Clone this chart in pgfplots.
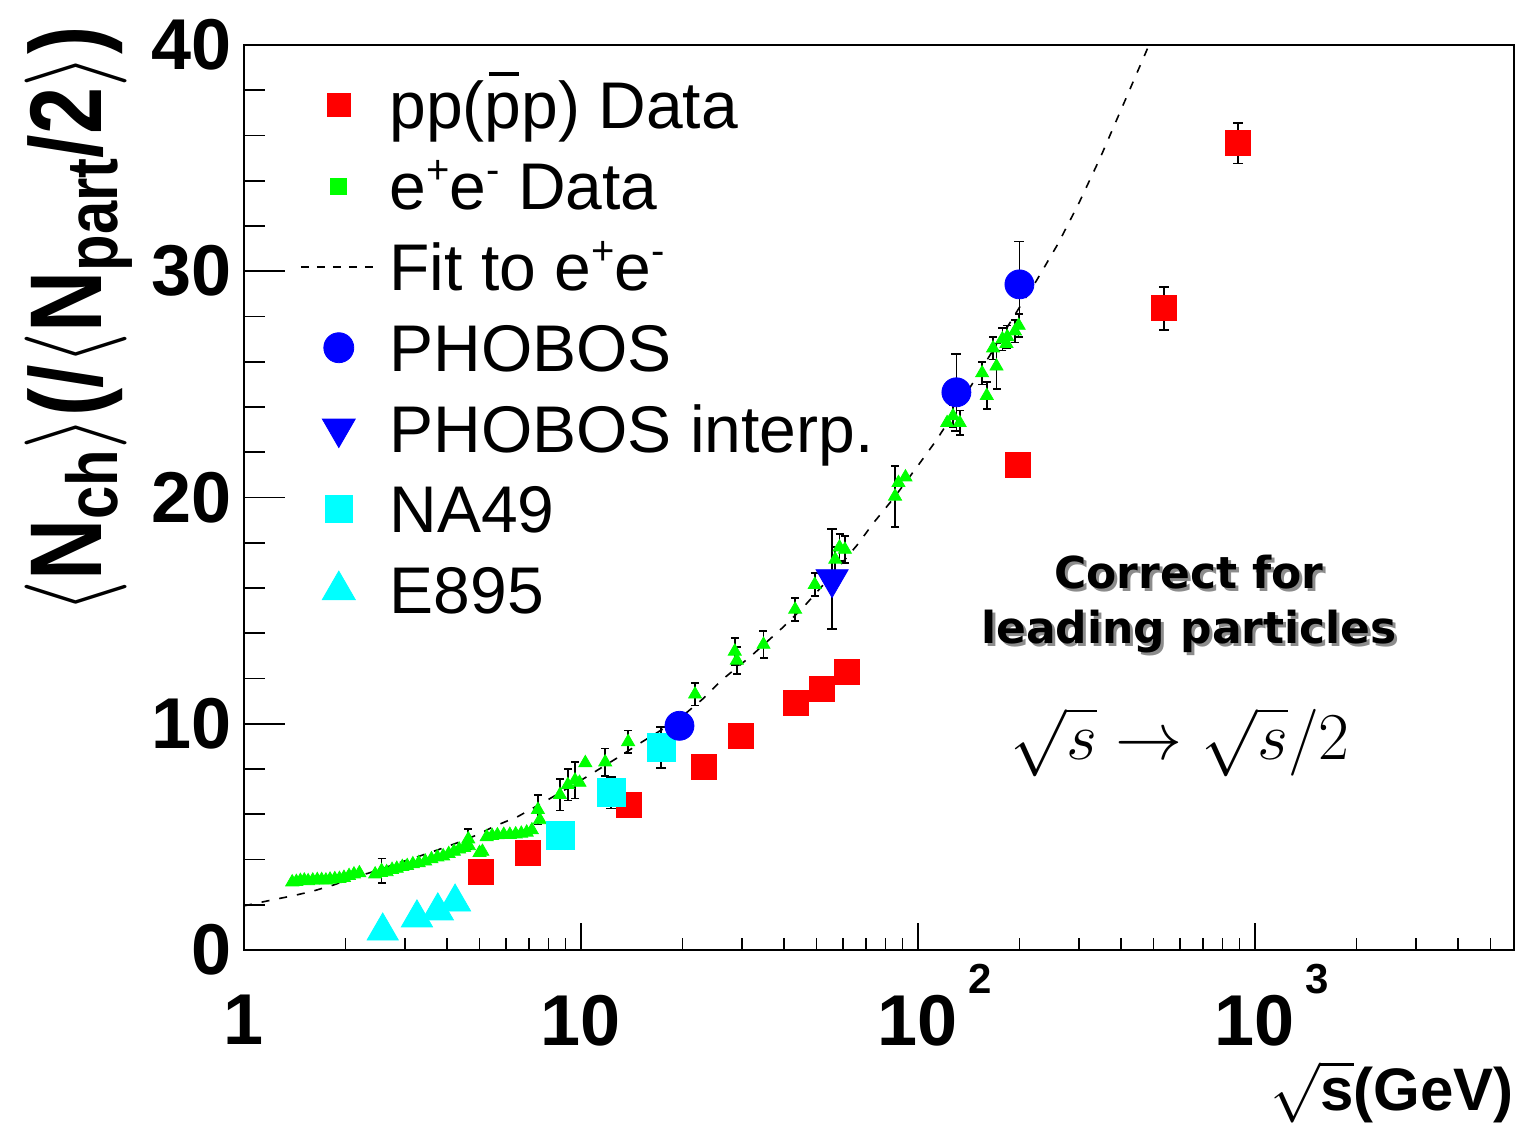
\RequirePackage{fix-cm}
\documentclass[border=0pt]{standalone}
\usepackage{fontspec}
\setmainfont{Liberation Sans}
\newfontfamily\dejavu{DejaVu Sans}
\usepackage{graphicx}
\usepackage{pgfplots}
\usepackage{pgfplotstable}
\pgfplotsset{compat=1.18}
\definecolor{rred}{RGB}{255,0,0}
\definecolor{rgreen}{RGB}{0,255,0}
\definecolor{rblue}{RGB}{0,0,255}
\definecolor{rcyan}{RGB}{0,255,255}

\newcommand\sups[1]{\raisebox{13pt}{\fontsize{20}{20}\selectfont #1}}
\newcommand\subs[1]{\raisebox{-8pt}{\fontsize{36}{36}\selectfont\bfseries #1}}
\newcommand\tenp[1]{10\rlap{\hspace{5pt}\smash{\raisebox{26pt}{\fontsize{21}{21}\selectfont\bfseries #1}}}}
\newcommand\pbar{\makebox[0pt][l]{\hspace{0.06em}\rule[0.80em]{0.45em}{0.06em}}p}
\newcommand\shadowtext[1]{\makebox[0pt][l]{\hspace{1.5pt}\raisebox{-1.5pt}{\textcolor{black!45}{#1}}}#1}

\pgfplotstableread{
x y
1.0 1.95
1.2 2.2
1.4 2.4
1.6 2.6
1.85 2.88
2.1 3.18
2.5 3.53
2.85 3.83
3.2 4.07
3.75 4.42
4.3 4.74
4.9 5.08
5.5 5.45
6.5 5.9
8 6.65
10 7.5
13 8.55
15 9.15
19.5 10.2
23 11.1
26 11.9
32 13.0
40 14.3
46 15.2
55 16.5
66 17.9
74 18.9
85 20.0
101 21.5
113 22.5
130 23.9
146 25.1
175 27.0
200 28.4
225 29.6
260 31.2
300 33.0
347 35.0
413 37.6
488 40.1
520 41.2
}\fitdata

\pgfplotstableread{
x y
1.39 3.00
1.43 3.02
1.47 3.06
1.51 3.08
1.55 3.05
1.60 3.08
1.65 3.10
1.70 3.10
1.75 3.08
1.80 3.12
1.86 3.14
1.92 3.15
1.98 3.20
2.05 3.28
2.12 3.35
2.20 3.40
2.45 3.35
2.55 3.42
2.65 3.45
2.75 3.55
2.84 3.60
2.95 3.68
3.05 3.72
3.17 3.80
3.30 3.85
3.45 3.92
3.60 4.02
3.75 4.10
3.90 4.15
4.05 4.25
4.20 4.35
4.35 4.45
4.50 4.52
4.65 4.60
5.00 4.30
5.10 4.35
5.25 5.00
5.45 5.05
5.65 5.08
5.90 5.10
6.15 5.10
6.40 5.12
6.65 5.15
6.90 5.20
7.15 5.30
7.55 5.75
9.9 7.4
10.3 8.27
87.5 20.65
91.8 20.9
122 23.3
183 26.8
}\eeplain

\pgfplotstableread{
x y ey
2.56 3.50 0.55
4.63 4.90 0.45
7.45 6.20 0.65
8.66 6.86 0.70
9.14 7.30 0.70
9.60 7.50 0.80
11.8 8.30 0.60
13.8 9.20 0.50
21.8 11.30 0.50
28.6 13.20 0.60
29.0 12.80 0.60
34.8 13.50 0.60
43.2 15.05 0.50
49.4 16.15 0.50
56.8 17.26 0.55
58.5 17.80 0.60
60.7 17.70 0.60
85.5 20.05 1.35
127 23.60 0.50
133 23.30 0.55
155 25.50 0.50
160 24.50 0.60
167 26.60 0.50
171 25.80 1.00
178 27.00 0.50
184 27.10 0.50
194 27.35 0.50
199 27.60 0.50
}\eeerr

\pgfplotstableread{
x y
5.05 3.45
6.96 4.29
13.9 6.42
23.2 8.10
29.8 9.47
43.5 10.9
51.9 11.55
61.6 12.3
198 21.46
}\ppplain

\pgfplotstableread{
x y ey
537 28.36 0.95
891 35.66 0.90
}\pperr

\pgfplotstableread{
x y ey
8.7 5.05 0.40
12.3 6.95 0.70
17.3 8.95 0.90
}\nafour

\pgfplotstableread{
x y
2.58 0.84
3.26 1.42
3.76 1.73
4.23 2.12
}\efive

\pgfplotstableread{
x y ey
19.6 9.91 0.40
130 24.65 1.70
200 29.42 1.90
}\phobos

\pgfplotstableread{
x y ey
55.6 16.4 2.2
}\phint

\pgfplotsset{
  legmark/.style={legend image code/.code={\draw[##1] plot coordinates {(19pt,0pt)}; \path (0pt,0pt) (38pt,0pt);}},
  legline/.style={legend image code/.code={\draw[##1] (0pt,0pt) -- (38pt,0pt);}},
  ebars/.style={error bars/.cd, y dir=both, y explicit,
     error bar style={black, line width=0.8pt},
     error mark options={rotate=90, black, mark size=#1, line width=0.8pt}},
}

\begin{document}
\begin{tikzpicture}
\useasboundingbox (-122pt,-87.5pt) rectangle (638pt,475pt);
\begin{axis}[
  at={(0pt,0pt)}, anchor=south west,
  scale only axis, width=635pt, height=452.5pt,
  xmode=log, xmin=1, xmax=5870, ymin=0, ymax=40,
  xtick={1,10,100,1000},
  xticklabels={1,10,{\tenp{2}},{\tenp{3}}},
  minor xtick={2,3,4,5,6,7,8,9,20,30,40,50,60,70,80,90,200,300,400,500,600,700,800,900,2000,3000,4000,5000},
  ytick={0,10,20,30,40},
  yticklabels={0,10,20,30,40},
  minor ytick={2,4,6,8,12,14,16,18,22,24,26,28,32,34,36,38},
  xtick pos=bottom, ytick pos=left,
  tick align=inside,
  major tick length=20.5pt, minor tick length=10.5pt,
  xtick style={/pgfplots/major tick length=13.5pt, /pgfplots/minor tick length=6pt},
  tick style={black, line width=0.8pt},
  axis line style={line width=1pt},
  tick label style={font=\fontsize{36}{40}\selectfont\bfseries},
  xticklabel style={anchor=north, inner sep=0pt, yshift=-22.5pt},
  yticklabel style={anchor=east, inner sep=0pt, xshift=-6pt},
  xlabel={$\smash{\sqrt{\mbox{\bfseries s}}}$(GeV)},
  xlabel style={at={(axis description cs:1.0,-0.1607)}, anchor=east, inner sep=0pt, font=\fontsize{30}{34}\selectfont\bfseries},
  ylabel={\scalebox{0.83}[1]{$\langle$N\subs{ch}$\rangle$(/$\langle$N\subs{part}/2$\rangle$)}},
  ylabel style={at={(axis description cs:-0.1305,0.696)}, anchor=center, inner sep=0pt, font=\fontsize{51}{56}\selectfont\bfseries},
  legend cell align=left,
  legend style={at={(axis description cs:0.0441,0.978)}, anchor=north west, draw=none, fill=none,
     inner sep=0pt, outer sep=0pt, row sep=0pt, column sep=6pt,
     font=\fontsize{33}{36}\selectfont,
     nodes={inner sep=0pt, text height=32pt, text depth=8.4pt}},
]
% fit to e+e-
\addplot[black, dash pattern=on 4pt off 5pt, line width=0.8pt, forget plot] table[x=x,y=y] {\fitdata};
% e+e- data
\addplot[only marks, mark=triangle*, mark size=3.75pt, mark options={fill=rgreen, draw=rgreen}, forget plot] table[x=x,y=y] {\eeplain};
\addplot[only marks, mark=triangle*, mark size=3.75pt, mark options={fill=rgreen, draw=rgreen}, forget plot, ebars=2pt] table[x=x,y=y,y error=ey] {\eeerr};
% pp data
\addplot[only marks, mark=square*, mark size=6.25pt, mark options={fill=rred, draw=rred}, forget plot] table[x=x,y=y] {\ppplain};
\addplot[only marks, mark=square*, mark size=6.25pt, mark options={fill=rred, draw=rred}, forget plot, ebars=2.5pt] table[x=x,y=y,y error=ey] {\pperr};
% NA49
\addplot[only marks, mark=square*, mark size=7pt, mark options={fill=rcyan, draw=rcyan}, forget plot, ebars=2.5pt] table[x=x,y=y,y error=ey] {\nafour};
% E895
\addplot[only marks, mark=triangle*, mark size=9pt, mark options={fill=rcyan, draw=rcyan}, forget plot] table[x=x,y=y] {\efive};
% PHOBOS
\addplot[only marks, mark=*, mark size=7.25pt, mark options={fill=rblue, draw=rblue}, forget plot, ebars=2.5pt] table[x=x,y=y,y error=ey] {\phobos};
\addplot[only marks, mark=triangle*, mark size=9.3pt, mark options={fill=rblue, draw=rblue, rotate=180}, forget plot, ebars=2.5pt] table[x=x,y=y,y error=ey] {\phint};

% legend
\addlegendimage{legmark, mark=square*, mark size=5.75pt, mark options={fill=rred, draw=rred}}
\addlegendentry{pp(\pbar p) Data}
\addlegendimage{legmark, mark=square*, mark size=4pt, mark options={fill=rgreen, draw=rgreen}}
\addlegendentry{e\sups{+}e\sups{-} Data}
\addlegendimage{legline, black, dash pattern=on 4pt off 4pt, line width=0.8pt}
\addlegendentry{Fit to e\sups{+}e\sups{-}}
\addlegendimage{legmark, mark=*, mark size=7.5pt, mark options={fill=rblue, draw=rblue}}
\addlegendentry{PHOBOS}
\addlegendimage{legmark, mark=triangle*, mark size=9.5pt, mark options={fill=rblue, draw=rblue, rotate=180}}
\addlegendentry{PHOBOS interp.}
\addlegendimage{legmark, mark=square*, mark size=6.75pt, mark options={fill=rcyan, draw=rcyan}}
\addlegendentry{NA49}
\addlegendimage{legmark, mark=triangle*, mark size=9.5pt, mark options={fill=rcyan, draw=rcyan}}
\addlegendentry{E895}

% annotation
\node[align=center, inner sep=0pt, font=\dejavu\bfseries\fontsize{22}{27.5}\selectfont] at (axis description cs:0.744,0.381) {\shadowtext{Correct for}\\ \shadowtext{leading particles}};
\node at (axis description cs:0.737,0.230) {\fontsize{33.5}{38}\selectfont $\sqrt{s}\rightarrow\sqrt{s}/2$};
\end{axis}
\end{tikzpicture}
\end{document}
